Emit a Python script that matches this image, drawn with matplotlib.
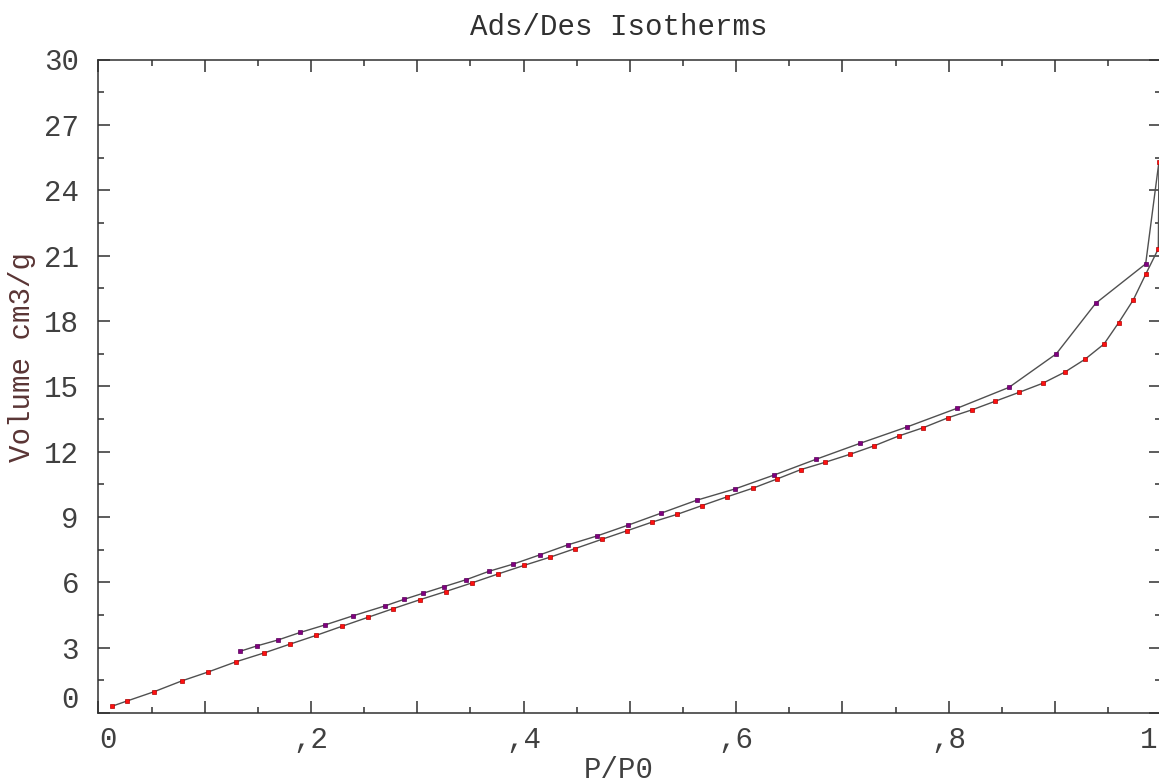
import matplotlib
matplotlib.use("Agg")
import matplotlib.pyplot as plt
import matplotlib.transforms as mtransforms
from matplotlib.ticker import MultipleLocator

# adsorption branch (red)
ads_p = [0.0131, 0.0266, 0.0523, 0.0786, 0.1034, 0.1297, 0.1558, 0.1805, 0.2050, 0.2289,
         0.2538, 0.2776, 0.3028, 0.3267, 0.3510, 0.3756, 0.4004, 0.4251, 0.4484, 0.4738,
         0.4973, 0.5211, 0.5443, 0.5675, 0.5916, 0.6155, 0.6381, 0.6610, 0.6835, 0.7071,
         0.7299, 0.7529, 0.7760, 0.7995, 0.8218, 0.8434, 0.8660, 0.8884, 0.9091, 0.9281,
         0.9460, 0.9598, 0.9736, 0.9852, 0.9971, 0.9977]
ads_v = [0.32, 0.55, 0.98, 1.48, 1.89, 2.36, 2.76, 3.17, 3.57, 3.98,
         4.40, 4.80, 5.21, 5.58, 5.97, 6.38, 6.78, 7.16, 7.55, 7.98,
         8.37, 8.77, 9.12, 9.52, 9.93, 10.32, 10.74, 11.18, 11.51, 11.88,
         12.27, 12.72, 13.10, 13.56, 13.92, 14.31, 14.72, 15.14, 15.65, 16.24,
         16.94, 17.92, 18.97, 20.14, 21.31, 25.31]

# desorption branch (purple), starts at the top adsorption point
des_p = [0.9977, 0.9852, 0.9382, 0.9011, 0.8566, 0.8077, 0.7610, 0.7169, 0.6751, 0.6358,
         0.5989, 0.5628, 0.5295, 0.4985, 0.4690, 0.4415, 0.4151, 0.3903, 0.3675, 0.3458,
         0.3248, 0.3054, 0.2875, 0.2696, 0.2398, 0.2134, 0.1897, 0.1692, 0.1495, 0.1335]
des_v = [25.31, 20.62, 18.81, 16.49, 14.95, 13.99, 13.14, 12.39, 11.65, 10.93,
         10.29, 9.77, 9.18, 8.63, 8.13, 7.72, 7.26, 6.84, 6.51, 6.12,
         5.80, 5.50, 5.22, 4.92, 4.47, 4.05, 3.70, 3.36, 3.09, 2.84]

x_ticks = [0, 0.1, 0.2, 0.3, 0.4, 0.5, 0.6, 0.7, 0.8, 0.9, 1.0]
x_labels = ["0", "", ",2", "", ",4", "", ",6", "", ",8", "", "1"]
y_ticks = [0, 3, 6, 9, 12, 15, 18, 21, 24, 27, 30]

FONT = "Liberation Mono"
TXT = "#404040"
W, H = 1159, 783

fig = plt.figure(figsize=(W / 100, H / 100), dpi=100)
ax = fig.add_axes([98.4 / W, (H - 713.1) / H, (1161.4 - 98.4) / W, (713.1 - 59.5) / H])

ax.plot(des_p, des_v, color="#505050", lw=1.0, zorder=2)
ax.plot(ads_p, ads_v, color="#505050", lw=1.0, zorder=2)
ax.plot(des_p[1:], des_v[1:], ls="none", marker="s", ms=3.2, mfc="#800080",
        mec="#5a005a", mew=0.5, zorder=3)
ax.plot(ads_p, ads_v, ls="none", marker="s", ms=3.2, mfc="#ff1010",
        mec="#b00000", mew=0.5, zorder=3)

ax.set_xlim(0, 1.0)
ax.set_ylim(0, 30)

ax.set_xticks(x_ticks, x_labels)
ax.xaxis.set_minor_locator(MultipleLocator(0.05))
ax.set_yticks(y_ticks, [str(v) for v in y_ticks])
ax.yaxis.set_minor_locator(MultipleLocator(1.5))

ax.tick_params(which="both", direction="in", top=True, right=True, color="#303030", width=1.1)
ax.tick_params(which="major", length=8.6)
ax.tick_params(which="minor", length=4.3)
ax.tick_params(axis="y", pad=14)
ax.tick_params(axis="x", pad=9)
for lbl in ax.get_xticklabels() + ax.get_yticklabels():
    lbl.set_fontfamily(FONT)
    lbl.set_fontsize(21)
    lbl.set_color(TXT)

# shift edge labels like the original
xl = ax.get_xticklabels()
xl[0].set_transform(xl[0].get_transform() + mtransforms.ScaledTranslation(0.10, 0, fig.dpi_scale_trans))
xl[-1].set_transform(xl[-1].get_transform() + mtransforms.ScaledTranslation(-0.13, 0, fig.dpi_scale_trans))
yl = ax.get_yticklabels()
yl[0].set_transform(yl[0].get_transform() + mtransforms.ScaledTranslation(0, 0.16, fig.dpi_scale_trans))

for s in ax.spines.values():
    s.set_color("#303030")
    s.set_linewidth(1.1)

fig.text(619 / W, 1 - 27 / H, "Ads/Des Isotherms", ha="center", va="center",
         fontfamily=FONT, fontsize=21, color="#303030")
fig.text(619 / W, 1 - 770 / H, "P/P0", ha="center", va="center",
         fontfamily=FONT, fontsize=21, color=TXT)
fig.text(22 / W, 1 - 357 / H, "Volume cm3/g", ha="center", va="center", rotation=90,
         fontfamily=FONT, fontsize=21, color="#5a3535")

fig.savefig("out.png", dpi=100)
